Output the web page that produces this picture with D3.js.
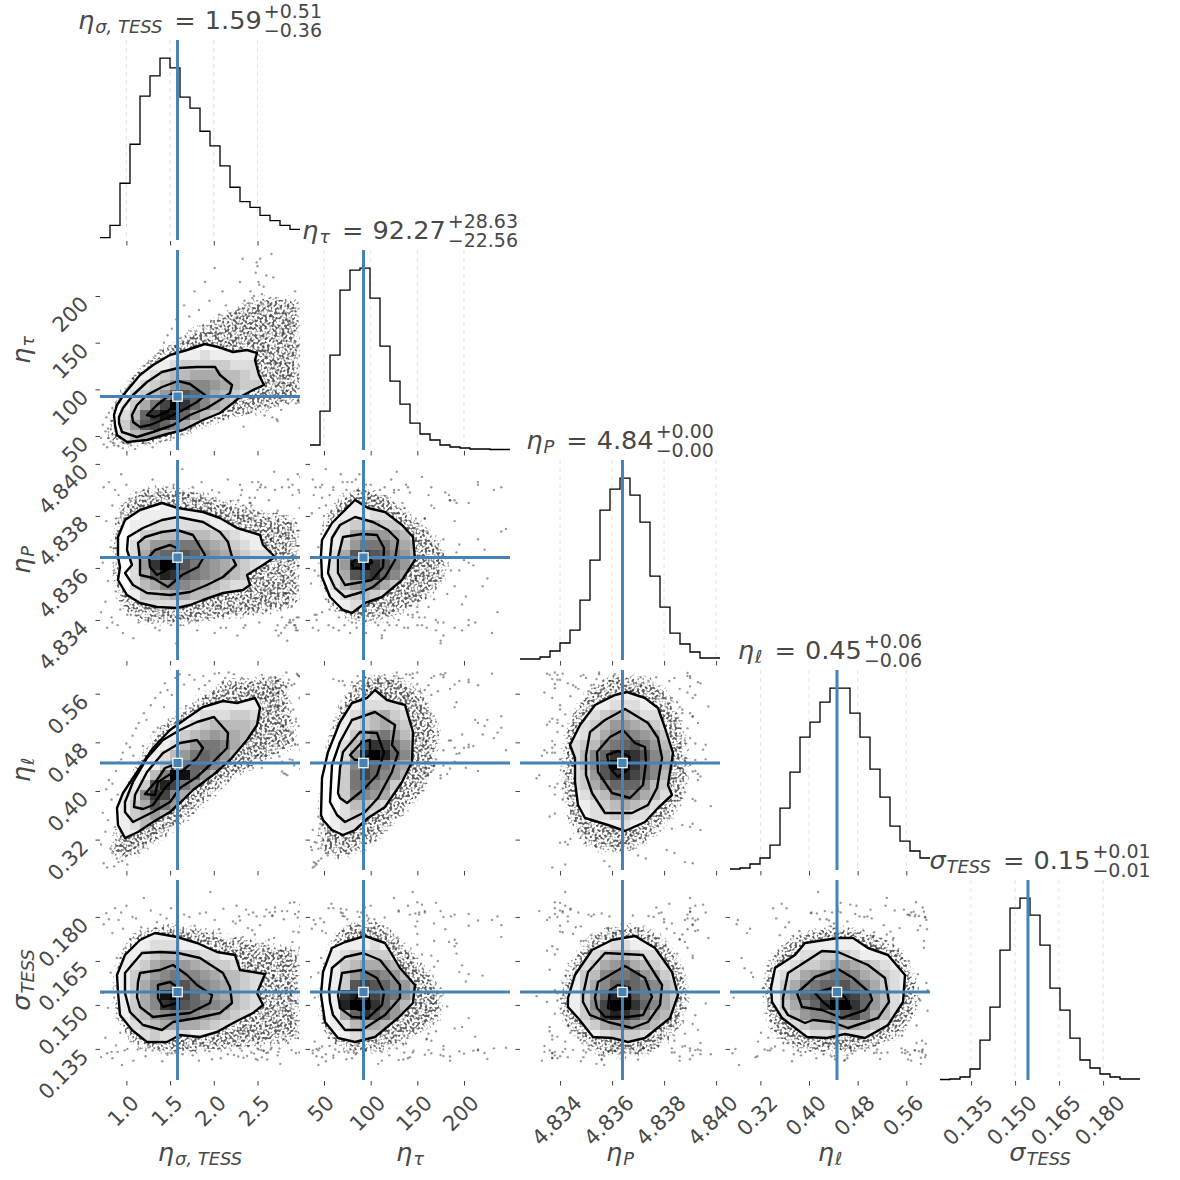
<!DOCTYPE html>
<html><head><meta charset="utf-8">
<style>html,body{margin:0;padding:0;background:#fff}svg{display:block}</style>
<script src="https://cdn.jsdelivr.net/npm/d3@7/dist/d3.min.js"></script>
</head><body><svg id="c" width="1180" height="1180"></svg>
<script>
// ---------- tick values / labels ----------
const ticksSigmaEta=[1,1.5,2,2.5], labelsSigmaEta=["1.0","1.5","2.0","2.5"];
const ticksTau=[50,100,150,200], labelsTau=["50","100","150","200"];
const ticksP=[4.834,4.836,4.838,4.84], labelsP=["4.834","4.836","4.838","4.840"];
const ticksEll=[.32,.4,.48,.56], labelsEll=["0.32","0.40","0.48","0.56"];
const ticksSigma=[.135,.15,.165,.18], labelsSigma=["0.135","0.150","0.165","0.180"];
// ---------- axis ranges and truth values ----------
const domSigmaEta=[.698,2.986], domTau=[35,249.3], domP=[4.83246,4.84015], domEll=[.27,.599], domSigma=[.1244,.1926];
const truths=[1.585,92.3,4.8364,.446,.1544];
// ---------- 1D histograms (20 bins, estimated heights) ----------
const histSigmaEta=[23,147,567,957,1437,1640,1817,1720,1427,1317,1087,940,740,527,383,327,247,193,147,107];
const histTau=[50,390,950,1600,1800,1820,1520,1040,690,460,270,160,100,50,30,20,10,10,5,5];
const histP=[10,10,30,90,170,300,600,1000,1500,1710,1820,1650,1380,840,530,270,160,80,20,20];
const histEll=[10,20,60,120,250,620,980,1330,1480,1680,1820,1820,1570,1330,1010,730,440,290,190,120];
const histSigma=[5,10,30,110,400,730,1300,1720,1820,1650,1350,920,700,420,200,120,60,30,10,10];
// ---------- individually estimated outlying samples, one list per parameter ----------
const sEtaSigma=[.71,.73,.74,.76,.77,.78,.79,.80,.82,.83,
.84,.84,.86,.87,.88,.89,.90,.91,.91,.93,
.94,.95,.96,.96,.98,.99,1.00,1.01,1.03,1.04,
1.05,1.07,1.08,1.10,1.11,1.13,1.14,1.16,1.17,1.19,
1.20,1.22,1.23,1.25,1.27,1.28,1.30,1.31,1.33,1.35,
1.36,1.38,1.39,1.41,1.43,1.44,1.46,1.47,1.49,1.51,
1.52,1.54,1.56,1.57,1.59,1.61,1.62,1.64,1.66,1.67,
1.69,1.71,1.72,1.74,1.76,1.78,1.79,1.81,1.83,1.84,
1.86,1.88,1.90,1.91,1.93,1.95,1.96,1.98,2.00,2.01,
2.03,2.05,2.06,2.08,2.10,2.11,2.13,2.14,2.16,2.17,
2.22,2.65,2.41,2.93,2.30,2.78,2.55,2.97,2.36,2.70,
2.48,2.86,2.25,2.62,2.99,2.44,2.74,2.33,2.90,2.58,
2.81,2.28,2.67,2.95,2.51,2.39,2.84,2.72,2.46,2.98,
2.60,2.24,2.88,2.53,2.76,2.35,2.92,2.43,2.69,2.82,
2.57,2.96,2.31,2.64,2.79,2.50,2.91,2.38,2.73,2.26,
2.85,2.56,2.94,2.45,2.68,2.32,2.87,2.61,2.77,2.42,
2.99,2.54,2.29,2.83,2.66,2.47,2.89,2.37,2.71,2.59,
2.23,2.80,2.52,2.96,2.40,2.75,2.63,2.34,2.92,2.49,
2.86,2.27,2.70,2.55,2.98,2.44,2.78,2.60,2.36,2.90,
2.50,2.67,2.94,2.30,2.83,2.57,2.41,2.73,2.97,2.62];
const sTau=[48,62,41,55,70,38,58,75,44,66,
52,80,40,60,86,47,72,39,92,56,
68,44,95,37,82,54,100,42,74,105,
40,88,112,36,98,62,118,45,104,78,
125,42,110,94,48,130,38,118,136,50,
128,44,142,52,150,120,46,158,134,55,
165,48,145,175,58,138,155,52,190,62,
150,56,178,142,60,205,160,66,185,148,
70,168,215,152,64,195,145,74,172,230,
158,78,180,140,205,68,165,190,84,150,
150,178,98,205,120,165,142,88,190,130,
225,105,168,82,155,198,112,240,138,72,
160,185,96,145,215,118,175,68,200,125,
92,135,172,240,108,195,150,76,128,182,
210,115,162,90,145,232,100,178,66,140,
122,192,85,158,220,110,170,135,78,205,
148,95,186,128,245,118,162,74,198,140,
175,104,212,88,152,128,190,60,168,236,
115,178,94,202,136,80,158,222,108,184,
130,70,170,215,98,146,192,120,86,160];
const sP=[4.8343,4.8362,4.8391,4.8347,4.8378,4.8337,4.8355,4.8393,4.8368,4.8341,
4.8384,4.8339,4.8359,4.8390,4.8351,4.8373,4.8338,4.8388,4.8365,4.8344,
4.8396,4.8357,4.8335,4.8381,4.8349,4.8370,4.8392,4.8342,4.8363,4.8386,
4.8342,4.8376,4.8333,4.8354,4.8389,4.8367,4.8339,4.8383,4.8346,4.8360,
4.8390,4.8340,4.8372,4.8352,4.8387,4.8340,4.8394,4.8358,4.8337,4.8380,
4.8366,4.8336,4.8389,4.8348,4.8375,4.8343,4.8391,4.8356,4.8385,4.8338,
4.8369,4.8392,4.8350,4.8331,4.8382,4.8361,4.8338,4.8398,4.8353,4.8377,
4.8345,4.8388,4.8339,4.8364,4.8391,4.8340,4.8374,4.8336,4.8386,4.8356,
4.8393,4.8348,4.8371,4.8341,4.8383,4.8359,4.8342,4.8390,4.8367,4.8335,
4.8379,4.8351,4.8389,4.8337,4.8362,4.8344,4.8384,4.8337,4.8394,4.8355,
4.8343,4.8371,4.8387,4.8338,4.8360,4.8391,4.8349,4.8341,4.8378,4.8390,
4.8356,4.8339,4.8383,4.8365,4.8395,4.8346,4.8334,4.8374,4.8392,4.8352,
4.8337,4.8386,4.8368,4.8341,4.8393,4.8358,4.8332,4.8381,4.8363,4.8389,
4.8344,4.8376,4.8339,4.8391,4.8354,4.8369,4.8338,4.8384,4.8397,4.8350,
4.8361,4.8336,4.8388,4.8347,4.8373,4.8390,4.8340,4.8357,4.8382,4.8342,
4.8394,4.8366,4.8337,4.8379,4.8353,4.8390,4.8340,4.8370,4.8335,4.8385,
4.8348,4.8392,4.8359,4.8338,4.8375,4.8387,4.8345,4.8364,4.8336,4.8391,
4.8355,4.8380,4.8339,4.8396,4.8351,4.8372,4.8386,4.8337,4.8362,4.8343,
4.8391,4.8334,4.8377,4.8349,4.8383,4.8393,4.8341,4.8367,4.8338,4.8388,
4.8356,4.8374,4.8336,4.8392,4.8346,4.8360,4.8385,4.8338,4.8390,4.8352];
const sEll=[.312,.364,.281,.333,.403,.274,.352,.418,.305,.386,
.298,.412,.276,.341,.433,.289,.394,.283,.447,.321,
.452,.285,.463,.303,.332,.294,.478,.279,.414,.472,
.316,.491,.458,.308,.503,.327,.512,.338,.361,.474,
.528,.315,.517,.352,.344,.541,.336,.497,.553,.367,
.504,.358,.562,.372,.538,.577,.346,.566,.392,.363,
.558,.384,.586,.421,.355,.592,.406,.375,.575,.417,
.442,.398,.591,.434,.387,.583,.426,.408,.568,.413,
.428,.589,.574,.404,.436,.581,.415,.443,.564,.593,
.431,.452,.594,.463,.579,.447,.586,.471,.424,.595,
.463,.587,.534,.476,.552,.432,.591,.507,.448,.572,
.517,.583,.441,.529,.468,.493,.562,.504,.451,.574,
.482,.437,.566,.593,.512,.549,.426,.538,.471,.589,
.556,.443,.497,.523,.584,.462,.576,.511,.539,.428,
.474,.591,.453,.568,.506,.487,.534,.442,.581,.526,
.577,.461,.519,.438,.493,.586,.452,.563,.509,.472,
.436,.558,.483,.595,.467,.528,.574,.501,.446,.553,
.592,.429,.517,.476,.564,.457,.538,.584,.442,.496,
.522,.467,.587,.438,.553,.579,.448,.507,.569,.483,
.459,.581,.514,.433,.571,.492,.546,.463,.589,.528];
const sSigma=[.1322,.1541,.1775,.1388,.1813,.1335,.1490,.1792,.1610,.1340,
.1745,.1318,.1525,.1830,.1362,.1660,.1340,.1790,.1570,.1405,
.1815,.1295,.1510,.1760,.1345,.1625,.1838,.1350,.1450,.1725,
.1375,.1800,.1310,.1595,.1795,.1348,.1690,.1352,.1765,.1475,
.1865,.1325,.1555,.1738,.1358,.1822,.1345,.1640,.1395,.1782,
.1500,.1345,.1808,.1308,.1705,.1430,.1795,.1330,.1585,.1830,
.1335,.1752,.1338,.1530,.1845,.1368,.1672,.1332,.1808,.1460,
.1742,.1360,.1800,.1545,.1328,.1770,.1385,.1620,.1310,.1812,
.1415,.1718,.1345,.1815,.1565,.1342,.1885,.1315,.1650,.1790,
.1440,.1350,.1758,.1318,.1605,.1828,.1378,.1700,.1332,.1480,
.1785,.1348,.1590,.1810,.1352,.1668,.1322,.1748,.1420,.1818,
.1316,.1515,.1778,.1338,.1842,.1635,.1340,.1732,.1465,.1802,
.1382,.1324,.1805,.1575,.1348,.1762,.1820,.1444,.1334,.1695,
.1825,.1365,.1540,.1772,.1299,.1612,.1850,.1338,.1728,.1495,
.1344,.1798,.1402,.1815,.1645,.1352,.1750,.1326,.1520,.1838,
.1370,.1710,.1336,.1815,.1600,.1344,.1848,.1314,.1685,.1455,
.1768,.1346,.1802,.1550,.1354,.1740,.1346,.1825,.1425,.1660,
.1329,.1792,.1392,.1505,.1808,.1352,.1722,.1320,.1630,.1802,
.1435,.1360,.1832,.1580,.1338,.1755,.1820,.1336,.1470,.1715,
.1312,.1803,.1410,.1788,.1560,.1344,.1675,.1328,.1818,.1485];
// ---------- density grids: rows of 20 bins, 0..f; first entry is the first row ----------
const gridTauEta=[10,"00000001112111111100","00000112333332221100","00001234455544322110","00012346777654332100","00023469a97543210000","001358bfc97543210000","00249ced964321000000","0036ab97532100000000","01245543211000000000","00111100000000000000"];
const gridPEta=[4,"00000011000000000000","00001111111100000000","00011222222111000000","00013344444332110000","00024667886543211100","00025899a97654322110","00026cfea87654321100","00025adc987654321000","00024578765432211000","00013345544322110000","00012222221111000000"];
const gridEllEta=[2,"00000000000000111000","00000000001111111000","00000000012223322100","00000000123444432100","00000001345655432100","00000012468875421000","00000124689864321000","00000136899753210000","0000147fe96421000000","00013adb864310000000","00127cb7532100000000","00135a86532100000000","00134643210000000000","00124321100000000000","00112110000000000000"];
const gridSigEta=[5,"00000111000000000000","00011222111100000000","00112344332211110000","00123566654332211000","00134678776544322110","00135789a87654322110","001357efb97654321100","001357cda98764321100","00134678876543211100","00123455554322110000","00012322211111100000","00001111000000000000"];
const gridPTau=[4,"00001100000000000000","00011122110000000000","00123343322000000000","00125666542100000000","00136888654210000000","0025aba9764210000000","0026dfca864210000000","0025abc9753210000000","00246775321000000000","00123432110000000000","00012221100000000000","00001100000000000000"];
const gridEllTau=[2,"00000011000000000000","00001222210000000000","00012345321000000000","00012345431000000000","00013578642100000000","00024acb864210000000","00026dfd975210000000","00037b98653210000000","00038b97642100000000","00038976321000000000","00037765210000000000","00024432100000000000","00123321000000000000","00122110000000000000","00011000000000000000"];
const gridSigTau=[6,"00011121100000000000","00123333211000000000","00134555432100000000","00136887643210000000","0013aba9764210000000","001cdcb9864210000000","001dffc9642100000000","00159ca8653100000000","00124554321000000000","00012332100000000000","00001110000000000000"];
const gridEllP=[2,"00000000011100000000","00000001122211000000","00000012344322100000","00000123466543210000","00000123578765321000","00000234789a86431000","000002479cdca7531000","00000247afec97531000","00000236acdb97421000","00000235799974321000","00000123478754211000","00000012345432110000","00000012233221000000","00000000112111000000"];
const gridSigP=[6,"00000001122110000000","00000122344322100000","00000123567543210000","00000134788965321000","0000013579a987431000","000001369dea86531000","00000137bffc97531000","00000136bdca75431000","00000123567654321000","00000011233321110000","00000000111110000000"];
const gridSigEll=[6,"00000001111110000000","00000112233321110000","00000123345654321100","00001235678875432110","00001357899a87532110","00001469aaccb9642110","000013579cffc9642100","00001246778ab8542110","00000123445554321000","00000011223222110000"];
// ---------- contour levels in histogram-bin units (x bin, y bin, ...), outer to inner ----------
const contTauEta=[[1.4,16.5,1.7,15.5,2.5,14.3,4,12.5,5.3,11.5,7,10.5,8.7,10,10.5,9.4,11.8,9.7,13.3,10.2,14.7,10,15.7,10.3,15.5,11,15.9,12.5,16.4,13.5,15.3,14,14,14.7,13.3,15.3,12,16.3,10.3,17,8.3,18,6.7,18.4,4.7,19,2.7,19.2,1.7,18.5,1.5,17.5],
[1.9,16.7,2.3,15.8,3.3,14.5,4.7,13.2,6.2,12.2,7.8,11.8,9.7,11.7,11.5,11.7,12,12.5,13.2,13.5,13,14.3,12,15,10.7,15.8,9,16.5,7.3,17.5,5.3,18.2,3.7,18.7,2.2,18.2,1.9,17.3],
[3.2,16.5,3.7,15.5,4.7,14.5,6.2,13.7,7.8,13.1,9,13.4,10.5,14.5,9.7,15.2,8.3,16,6.7,16.8,5,17.5,4,17.7,3.3,17.2],
[4.7,16.5,5.7,15.5,6.7,14.7,7.5,14.2,7.7,15.2,6.7,16.2,5.5,16.7]];
const contPEta=[[1.8,9.7,1.8,7.7,2.5,6,4,5,6.2,4.3,7.8,4.8,10.3,5.2,12,5.8,13.7,6.8,16,7.5,16.3,8.5,17.5,9.7,16.3,10.5,14.7,11.5,15,12.5,14.3,13,12.3,13.3,10.3,14,9,14.5,7.7,14.8,5.7,14.7,4,14.3,2.7,13.5,1.8,12,2,10.7],
[2.7,9,2.8,7.7,4.3,6.8,6.2,6,7.8,5.7,10.3,6.2,12,7.2,12.8,8.2,13.2,9.7,13.6,10.5,12.3,11.7,10.7,12.5,9,13.2,7,13.5,4.7,13.3,3.3,12.5,2.5,11.3,3.2,10.5],
[3.8,8.3,4.5,7.7,6.2,7.2,7.7,7,9.3,7.5,10.5,9.5,9.8,10.7,8.2,11.5,6.8,12.7,5.3,11.8,4,11.5,4,10],
[4.9,9.7,5.5,9,7,8.5,7.7,8.8,7.7,10,7,10.8,5.7,11.5,5,10.7]];
const contEllEta=[[2.5,16.8,1.8,15.5,1.7,13.8,2.3,12.3,3.7,10.2,5.3,7.8,7,6,8.7,4.8,10.3,3.7,12.3,3.1,13.7,3.3,15.5,2.8,16,3.8,15.7,5.5,14.7,7,13,9,11.3,10.5,9.3,12,8.3,13,7,14.2,5.3,15.2,3.8,16.2],
[2.5,14.2,2.5,13.2,3.3,11.2,4.7,8.8,6.3,7,8,6,9.7,5.2,11.4,4.7,12.8,6.3,12.7,7.8,11.3,9.2,9.7,10.7,8,11.8,7,13.2,5.3,14.2,3.3,15.2],
[3.4,13.7,3.5,12.5,4.7,10.2,6.3,8.3,8,7.3,9.7,7,10.3,7.8,9.7,8.8,8,10.3,6.5,11.8,5.3,13.5,4.3,13.9],
[4.5,12.4,5.7,11,6.5,9.8,7.3,9.5,7.2,10.3,5.8,11.2,5.5,12.5]];
const contSigEta=[[1.8,11.2,1.7,9.5,2.5,7.5,4,6,5.5,5.3,7.7,5.7,9.7,6.3,11.7,7.2,13.5,7.5,14,9,16.5,9.4,15.7,11.3,16.3,12.5,15.3,13.3,13.3,14.3,11.7,15.2,10,15.7,8,15.5,6.7,16.2,4.7,16.2,3.2,15,2,13.5],
[2.5,9.3,4.2,7.3,6,7.2,7.8,7.3,10,7.8,12.3,9.3,13,10.7,13.2,12.3,12,13.3,9.7,13.8,7.3,14.2,6.2,15,4.3,14.5,3,13.2,2.5,11.3],
[3.8,10.2,4,9.3,6,9,7.3,8.5,8.7,9.5,9.7,10.5,11.2,11.5,11,12.3,9,13.3,7,13.5,5.3,13.7,4,12.7,3.7,11.7],
[5.8,10.5,7,10.2,7.7,10.7,7.7,12.3,6.3,12.7,5.8,11.8]];
const contPTau=[[1.1,9.5,1.2,8,2.2,6.3,3.5,5,4.5,4,5.8,4.8,7.5,5.2,9.2,6.5,10.3,7.7,10.5,10,9.2,12,7.2,13.7,5.5,14.3,4.2,15.3,3.3,15,2,13.7,1.2,11.7],
[2,9.7,2.2,7.8,3,6.5,4.5,5.7,6.3,6.2,7.8,7,8.8,8,8.5,10,7.5,11.7,6.3,12.7,5.2,13.2,3.5,13.7,2.5,12.8,1.8,11.3],
[2.8,9.7,3.3,7.7,5.2,7.4,6.7,7.5,7.4,8.8,7.3,10.7,6.2,12,5.2,12.2,3.5,12.5,2.8,11.3],
[4.2,10.3,5,9.5,6,9.7,6.2,10.3,5.2,10.8,4.3,10.8]];
const contEllTau=[[1.1,14.5,1.2,10.8,1.8,8.2,3,5.2,4.2,3.3,5.7,2.8,6.5,2,7.7,3,9.5,3.5,10.3,6.2,10.2,9.2,9.2,11.2,7.5,13.7,5.8,14.8,4.5,16,3.3,16.5,2.2,16,1.3,15],
[2,13.2,2.2,9.5,3,7.2,4.2,5,6.5,4.2,8.5,5.5,8.2,7.5,8.8,8.3,8.2,10.2,6.8,12.8,5.5,14.2,3.5,15.2,2.7,14.5],
[2.8,12.3,3,9.8,3.3,8.2,5,6.2,6.7,6.3,7.4,8.3,6.7,10.5,5.3,12,3.7,13.3,3,12.8],
[4,8.5,5.2,7.2,6,7,6,8.5,5.3,9,4.5,9]];
const contSigTau=[[1.1,11.5,1.3,9.2,2.2,6.8,3.5,6.2,5.5,5.6,7.5,6.3,9,8.8,10.5,10.5,10.3,12.3,8.8,13.8,6.5,15.7,4.5,16.2,2.8,15.8,1.5,14.2],
[1.9,11,2.2,8.8,3.5,7.7,5.3,7.3,7,8,9,10.5,9,11.8,7.5,13.5,5.2,15,3.5,15,2.3,13.5,2,12.2],
[2.8,11.5,3.2,9.3,5.2,9,6.7,9.8,7.4,11.2,7.2,12.5,5.8,13.8,4.2,13.7,3,12.8],
[4.2,12.5,4.8,11.5,5.8,11.3,6,12.7,5,13,4.3,12.8]];
const contEllP=[[5,7.5,6,5.5,7.5,3.5,9.5,2.5,10.7,2.2,12.5,2.8,13.8,3.8,14.5,5.8,15.3,8.3,14.8,11.5,15.2,12.5,13.8,13.8,12.5,15.2,10.5,16.1,8.8,15.5,6.5,14.8,5.8,13.5,5.5,11.2,5.5,8.8],
[6.6,8.5,7,6.2,8.5,5,10.5,3.9,12.8,5.3,13.8,6.8,14.2,8.8,13.7,11.8,12.8,13.5,11.2,14.3,8.5,14.3,7.2,12.3,6.6,10.5],
[7.7,8.2,9,6.7,10.3,6,11.5,7.3,12.5,7.7,12.6,9.2,12.3,11.5,11,12.8,9.2,12.3,7.8,10.2],
[8.7,8.5,9.8,8.1,11,8.7,10.7,10,9.8,10.7,9,9.8]];
const contSigP=[[4.8,11.8,5.5,9.5,7.2,7,9.2,6,11.5,5.6,13.5,6.8,15.2,9.2,15.8,11.5,15,13.8,12.5,15.8,10.8,16.2,9.2,15.8,7.3,15.7,5.8,13.8,4.8,12.7],
[6.3,11.5,6.8,9.2,8.5,7.3,12.3,7.5,14.2,10.5,14,12.5,12.8,14.2,11.2,14.8,8.8,14.2,7,13.5,6.3,12.2],
[7.5,11.8,7.8,10.2,10.5,8.6,12.5,9.8,13.2,11.7,12.3,13.5,10.8,13.7,8.5,13.7,7.7,12.8],
[8.8,12.8,9,11,9.8,10.5,11,10.8,11,12.8,9.5,13]];
const contSigEll=[[4.1,10.8,4.5,8.8,6.5,7.5,7.5,6.3,10.8,5.8,12.3,5.8,13.8,6.8,15.8,7.5,17.5,9.5,17.3,12.2,15.8,14.5,13.5,15.8,11.5,15.4,9.7,15.8,7.7,15.7,5.2,13.8,4.2,12.2],
[5.3,11.8,5.8,9.3,9.2,7.1,10.8,7.2,13.8,8.5,15.5,9.8,15.9,12.2,14.8,13.8,11.8,14.8,10.2,14.2,8.3,14,7.5,14.3,5.8,13.5,5.3,12.7],
[6.7,11.3,8.5,9.7,10.8,8.9,12.3,9.8,14,11.3,14.2,12,13.5,13,11.2,13.8,9.2,13,7.2,12.7],
[8.5,11.3,10.2,10.8,11.5,11.7,12.1,12.8,10.2,12.9,9.3,12.2]];
// ---------- extent of the dense sample cloud, in the same bin units ----------
const cloudTauEta=[0,19.8,.6,16,2.3,12.8,5,10.2,8.3,7.8,12.3,5.8,16.3,4,20.5,4.5,20.5,15.5,16.3,16.8,12.3,17.5,8.3,19.2,4,20.2];
const cloudPEta=[.8,7,1.5,4,4,2.3,7,2,10,2.6,13,3.5,16,4.5,20.5,5.5,20.5,15,16,16,12,16.5,8,17,4,16.8,1.5,15,.8,12];
const cloudEllEta=[.3,19.2,1.7,12.8,3.3,8.8,6,4.8,9,2.8,12,.5,19,0,20.3,7.8,16.3,9.8,13.3,11.5,9.7,14.8,6.7,17.2,3.3,19.5];
const cloudSigEta=[.8,10,1.5,7,3.5,4.5,7,3.8,11,4.5,15,5.5,20.5,6.5,20.5,16.5,15,17.3,10,17.8,6,18,3,17,1,14];
const cloudPTau=[.4,10,.8,6,2.5,3.3,5,2,8,3,11,5.5,13.5,8,14.5,10,13.5,13,11,15,8,16.5,4.5,17,2,15.5,.6,13];
const cloudEllTau=[.3,17,.6,11,1.5,6,3,2,5,0,9,0,12,2,13.5,6,13,10,11.5,13,9,15.5,6.5,18,3.5,19.5,1,19];
const cloudSigTau=[.4,12,.8,8,2,5,4,3.5,7,3.5,10,6,12.5,9,14,11.5,13.5,14.5,11,16,8,17.5,4.5,18,2,17,.6,15];
const cloudEllP=[3.7,8,4.5,4.5,6.5,1.5,9,0,12.5,0,15,1.5,16.8,5,17.5,9,17,13,15,16,12,18.5,9,19,6,18,4.2,15,3.5,11];
const cloudSigP=[3.3,12,4.2,8.5,6.3,5.3,9,4,12,3.8,15,5.5,16.8,8.5,17.5,12,16.5,15.5,13.5,17.8,10.5,18.3,7.5,18,5,16,3.6,14];
const cloudSigEll=[2.5,11,3.5,7.5,6,5,10,4,14,4.5,17.5,6.5,19.3,10,19.3,13,17.5,16,14,17.5,10,18,6,17.5,3.5,15.5];
// ---------- text ----------
const symbols=[["η","σ, TESS"],["η","τ"],["η","P"],["η","ℓ"],["σ","TESS"]];
const titleVals=[["1.59","+0.51","−0.36"],["92.27","+28.63","−22.56"],["4.84","+0.00","−0.00"],["0.45","+0.06","−0.06"],["0.15","+0.01","−0.01"]];

// ---------- build ----------
const params=[
 {dom:domSigmaEta,ticks:ticksSigmaEta,labels:labelsSigmaEta,hist:histSigmaEta,samples:sEtaSigma},
 {dom:domTau,ticks:ticksTau,labels:labelsTau,hist:histTau,samples:sTau},
 {dom:domP,ticks:ticksP,labels:labelsP,hist:histP,samples:sP},
 {dom:domEll,ticks:ticksEll,labels:labelsEll,hist:histEll,samples:sEll},
 {dom:domSigma,ticks:ticksSigma,labels:labelsSigma,hist:histSigma,samples:sSigma}];
const pairsData={"0,1":[gridTauEta,contTauEta,cloudTauEta],"0,2":[gridPEta,contPEta,cloudPEta],"0,3":[gridEllEta,contEllEta,cloudEllEta],"0,4":[gridSigEta,contSigEta,cloudSigEta],
 "1,2":[gridPTau,contPTau,cloudPTau],"1,3":[gridEllTau,contEllTau,cloudEllTau],"1,4":[gridSigTau,contSigTau,cloudSigTau],
 "2,3":[gridEllP,contEllP,cloudEllP],"2,4":[gridSigP,contSigP,cloudSigP],"3,4":[gridSigEll,contSigEll,cloudSigEll]};
const left=100,top0=40,size=200,gap=10,N=5;
const TXT="#484848",BLUE="#4682b4",FONT="'DejaVu Sans'";
const svg=d3.select("#c").attr("font-family",FONT);
const defs=svg.append("defs");
// stippled texture for the dense cloud: it stands in for the thousands of overlapping dots
function stipple(id,seed){
  const f=defs.append("filter").attr("id",id).attr("x","-30%").attr("y","-30%").attr("width","160%").attr("height","160%").attr("color-interpolation-filters","sRGB");
  f.append("feGaussianBlur").attr("in","SourceGraphic").attr("stdDeviation",7).attr("result","b");
  f.append("feTurbulence").attr("type","fractalNoise").attr("baseFrequency",.4).attr("numOctaves",1).attr("seed",seed).attr("result","n");
  f.append("feComposite").attr("in","n").attr("in2","b").attr("operator","arithmetic").attr("k1",1).attr("k2",0).attr("k3",0).attr("k4",0).attr("result","m");
  f.append("feColorMatrix").attr("in","m").attr("type","matrix").attr("values","0 0 0 0 0  0 0 0 0 0  0 0 0 0 0  0 0 0 7 -2.5").attr("result","t");
  f.append("feGaussianBlur").attr("in","t").attr("stdDeviation",.35);
}
const colX=i=>left+i*(size+gap), rowY=j=>top0+j*(size+gap);
const xS=i=>d3.scaleLinear(params[i].dom,[colX(i),colX(i)+size]);
const yS=j=>d3.scaleLinear(params[j].dom,[rowY(j)+size,rowY(j)]);
const chunk=a=>d3.range(0,a.length,2).map(k=>[a[k],a[k+1]]);
const LAB=25.6, SUB=17.9, SUPER=19, TICK=21;

function tickAxis(g,axis){
  g.call(axis.tickFormat(""));
  g.select(".domain").remove();
  g.selectAll(".tick line").attr("stroke","#444").attr("stroke-width",1);
}
function sym(g,x,base,s,sub){
  const a=g.append("text").attr("x",x).attr("y",base).attr("fill",TXT).attr("font-size",LAB).attr("font-style","italic").attr("xml:space","preserve").text(s);
  const w=a.node().getComputedTextLength();
  const b=g.append("text").attr("x",x+w+1).attr("y",base+4).attr("fill",TXT).attr("font-size",SUB).attr("font-style","italic").attr("xml:space","preserve").text(sub);
  return w+1+b.node().getComputedTextLength();
}
function title(i){
  const g=svg.append("g"), base=rowY(i)-11;
  let x=sym(g,0,base,symbols[i][0],symbols[i][1]);
  x+=12;
  const e=g.append("text").attr("x",x).attr("y",base).attr("fill",TXT).attr("font-size",LAB).text("=");
  x+=e.node().getComputedTextLength()+9;
  const v=g.append("text").attr("x",x).attr("y",base).attr("fill",TXT).attr("font-size",LAB).text(titleVals[i][0]);
  x+=v.node().getComputedTextLength()+2;
  const up=g.append("text").attr("x",x).attr("y",base-11.5).attr("fill",TXT).attr("font-size",SUPER).text(titleVals[i][1]);
  const dn=g.append("text").attr("x",x).attr("y",base+7.5).attr("fill",TXT).attr("font-size",SUPER).text(titleVals[i][2]);
  x+=Math.max(up.node().getComputedTextLength(),dn.node().getComputedTextLength());
  g.attr("transform",`translate(${colX(i)+size/2-x/2},0)`);
}
function axisLabel(i,vertical){
  const g=svg.append("g");
  const w=sym(g,0,0,symbols[i][0],symbols[i][1]);
  if(vertical) g.attr("transform",`translate(30,${rowY(i)+size/2+w/2}) rotate(-90)`);
  else g.attr("transform",`translate(${colX(i)+size/2-w/2},1161)`);
}
// 2D panels
let seed=3;
for(let i=0;i<N;i++) for(let j=i+1;j<N;j++){
  const x=xS(i), y=yS(j), id=`p${i}${j}`, [grid,conts,cloud]=pairsData[i+","+j];
  const bx=d3.scaleLinear([0,20],params[i].dom), by=d3.scaleLinear([0,20],[params[j].dom[1],params[j].dom[0]]);
  const line=d3.line().x(d=>x(bx(d[0]))).y(d=>y(by(d[1]))).curve(d3.curveLinearClosed);
  const outer=line(chunk(conts[0]));
  defs.append("clipPath").attr("id",id).append("rect").attr("x",colX(i)).attr("y",rowY(j)).attr("width",size).attr("height",size);
  defs.append("clipPath").attr("id",id+"o").append("path").attr("d",outer);
  stipple("st"+id,seed++);
  const g=svg.append("g").attr("clip-path",`url(#${id})`);
  g.append("path").attr("d",line(chunk(cloud))).attr("fill","#000").attr("fill-opacity",.8).attr("filter",`url(#st${id})`).attr("opacity",.62);
  g.selectAll("circle").data(d3.range(params[i].samples.length)).join("circle")
    .attr("cx",k=>x(params[i].samples[k])).attr("cy",k=>y(params[j].samples[k])).attr("r",1.2).attr("fill","#000").attr("fill-opacity",.4);
  g.append("path").attr("d",outer).attr("fill","#fff");
  const cg=g.append("g").attr("clip-path",`url(#${id}o)`);
  const cells=[];
  grid.slice(1).forEach((row,r)=>[...row].forEach((c,q)=>{const d=parseInt(c,16); if(d>0) cells.push({q,r:r+grid[0],d});}));
  const gray=d3.scaleLinear([0,15],["#fff","#000"]);
  cg.selectAll("rect").data(cells).join("rect")
    .attr("x",d=>x(bx(d.q))).attr("y",d=>y(by(d.r))).attr("width",d=>x(bx(d.q+1))-x(bx(d.q))+.3).attr("height",d=>y(by(d.r+1))-y(by(d.r))+.3)
    .attr("fill",d=>gray(d.d));
  conts.forEach(c=>g.append("path").attr("d",line(chunk(c))).attr("fill","none").attr("stroke","#000").attr("stroke-width",2.4).attr("stroke-linejoin","round"));
  g.append("line").attr("x1",x(truths[i])).attr("x2",x(truths[i])).attr("y1",rowY(j)).attr("y2",rowY(j)+size).attr("stroke",BLUE).attr("stroke-width",3);
  g.append("line").attr("x1",colX(i)).attr("x2",colX(i)+size).attr("y1",y(truths[j])).attr("y2",y(truths[j])).attr("stroke",BLUE).attr("stroke-width",3);
  svg.append("rect").attr("x",x(truths[i])-4.7).attr("y",y(truths[j])-4.7).attr("width",9.4).attr("height",9.4).attr("fill",BLUE).attr("stroke","#fff").attr("stroke-width",1.2);
  tickAxis(svg.append("g").attr("transform",`translate(0,${rowY(j)+size+1})`),d3.axisBottom(x).tickValues(params[i].ticks).tickSize(4.5));
  tickAxis(svg.append("g").attr("transform",`translate(${colX(i)},0)`),d3.axisLeft(y).tickValues(params[j].ticks).tickSize(4.5));
}
// diagonal
for(let i=0;i<N;i++){
  const x=xS(i), hist=params[i].hist, bx=d3.scaleLinear([0,20],params[i].dom);
  const y=d3.scaleLinear([0,d3.max(hist)*1.1],[rowY(i)+size,rowY(i)]);
  params[i].ticks.forEach(t=>svg.append("line").attr("x1",x(t)).attr("x2",x(t)).attr("y1",rowY(i)).attr("y2",rowY(i)+size).attr("stroke","#e2e2e2").attr("stroke-width",1).attr("stroke-dasharray","4 4"));
  const pts=hist.map((h,k)=>[k,h]); pts.push([20,hist[19]]);
  svg.append("path").attr("d",d3.line().x(d=>x(bx(d[0]))).y(d=>y(d[1])).curve(d3.curveStepAfter)(pts)).attr("fill","none").attr("stroke","#000").attr("stroke-width",1.3);
  svg.append("line").attr("x1",x(truths[i])).attr("x2",x(truths[i])).attr("y1",rowY(i)).attr("y2",rowY(i)+size).attr("stroke",BLUE).attr("stroke-width",3);
  tickAxis(svg.append("g").attr("transform",`translate(0,${rowY(i)+size+1})`),d3.axisBottom(x).tickValues(params[i].ticks).tickSize(4.5));
}
function rotated(cx,cy,str,anchorRight){
  const t=svg.append("text").attr("fill",TXT).attr("font-size",TICK).attr("text-anchor","middle").attr("dominant-baseline","central").text(str);
  const w=t.node().getComputedTextLength(), ext=(w+15)*.7071;
  const px=anchorRight?cx-ext/2:cx, py=cy+ext/2;
  t.attr("transform",`translate(${px},${py}) rotate(-45)`);
}
for(let i=0;i<N;i++){
  const x=xS(i);
  params[i].ticks.forEach((t,k)=>rotated(x(t)-3,1094,params[i].labels[k],false));
  axisLabel(i,false);
}
for(let j=1;j<N;j++){
  const y=yS(j);
  params[j].ticks.forEach((t,k)=>rotated(90,y(t)-1,params[j].labels[k],true));
  axisLabel(j,true);
}
for(let i=0;i<N;i++) title(i);
</script></body></html>
